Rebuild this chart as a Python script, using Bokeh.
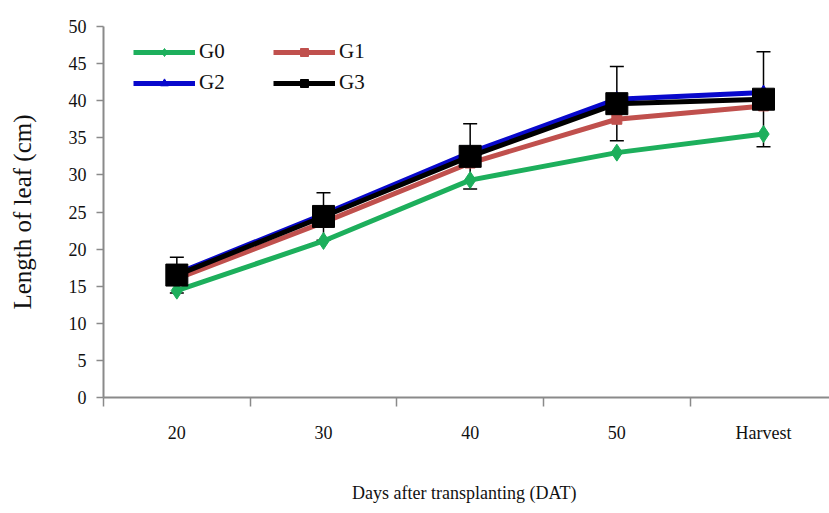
from bokeh.plotting import figure
from bokeh.models import (ColumnDataSource, Range1d, FixedTicker, Legend, LegendItem,
                          Whisker, TeeHead)
from bokeh.embed import file_html
from bokeh.resources import INLINE

categories = ["20", "30", "40", "50", "Harvest"]
g0 = [14.4, 21.1, 29.3, 33.0, 35.5]
g1 = [16.0, 23.6, 31.6, 37.5, 39.3]
g2 = [16.7, 24.7, 33.0, 40.2, 41.1]
g3 = [16.5, 24.4, 32.5, 39.6, 40.2]
g3_err = [2.4, 3.2, 4.4, 5.0, 6.4]
y_ticks = list(range(0, 51, 5))

FONT = "Liberation Serif"
AXIS_COLOR = "#8a8a8a"

n = len(categories)
centers = [i + 0.5 for i in range(n)]      # category slots
bounds = list(range(n + 1))                # category boundaries (Excel-style ticks)

p = figure(width=829, height=513, x_range=Range1d(0, n - 0.05), y_range=Range1d(0, 50),
           output_backend="svg", toolbar_location=None,
           min_border_left=103, min_border_right=0, min_border_top=26, min_border_bottom=116)
p.outline_line_color = None
p.xgrid.grid_line_color = None
p.ygrid.grid_line_color = None

xax = p.xaxis[0]
xax.ticker = FixedTicker(ticks=centers, minor_ticks=bounds)
xax.major_label_overrides = {c: lab for c, lab in zip(centers, categories)}
xax.axis_line_color = AXIS_COLOR
xax.axis_line_width = 2
xax.major_tick_line_color = None
xax.major_tick_out = 0
xax.major_tick_in = 0
xax.minor_tick_line_color = AXIS_COLOR
xax.minor_tick_line_width = 1.5
xax.minor_tick_out = 9
xax.minor_tick_in = 0
xax.major_label_standoff = 16
xax.major_label_text_font = FONT
xax.major_label_text_font_size = "18px"
xax.major_label_text_color = "#111111"
xax.axis_label = "Days after  transplanting (DAT)"
xax.axis_label_text_font = FONT
xax.axis_label_text_font_size = "18px"
xax.axis_label_text_font_style = "normal"
xax.axis_label_text_color = "#111111"
xax.axis_label_standoff = 37

yax = p.yaxis[0]
yax.ticker = FixedTicker(ticks=y_ticks)
yax.axis_line_color = AXIS_COLOR
yax.axis_line_width = 2
yax.major_tick_line_color = AXIS_COLOR
yax.major_tick_line_width = 1.5
yax.major_tick_out = 7
yax.major_tick_in = 0
yax.minor_tick_line_color = None
yax.major_label_text_font = FONT
yax.major_label_text_font_size = "18px"
yax.major_label_text_color = "#111111"
yax.major_label_standoff = 10
yax.axis_label = "Length of leaf (cm)"
yax.axis_label_text_font = FONT
yax.axis_label_text_font_size = "25px"
yax.axis_label_text_font_style = "normal"
yax.axis_label_text_color = "#111111"
yax.axis_label_standoff = 30

src = ColumnDataSource(dict(x=centers, g0=g0, g1=g1, g2=g2, g3=g3,
                            upper=[v + e for v, e in zip(g3, g3_err)],
                            lower=[v - e for v, e in zip(g3, g3_err)]))

series = [
    ("G0", "g0", "#1DAF5C", "diamond", 17),
    ("G1", "g1", "#C0504D", "square", 10),
    ("G2", "g2", "#0808CC", "triangle", 13),
    ("G3", "g3", "#000000", "square", 22),
]
items = {}
for name, col, color, marker, size in series:
    ln = p.line("x", col, source=src, line_color=color, line_width=5)
    sc = p.scatter("x", col, source=src, marker=marker, size=size,
                   fill_color=color, line_color=color)
    items[name] = LegendItem(label=name, renderers=[ln, sc])

wh = Whisker(source=src, base="x", upper="upper", lower="lower", line_color="black",
             line_width=1.5,
             upper_head=TeeHead(size=14, line_color="black", line_width=1.5),
             lower_head=TeeHead(size=14, line_color="black", line_width=1.5))
p.add_layout(wh)

# legend is filled column by column: G0/G2 in the first column, G1/G3 in the second
legend = Legend(items=[items["G0"], items["G2"], items["G1"], items["G3"]], ncols=2,
                location=(30, 302), margin=0, padding=0,
                glyph_width=62, glyph_height=20, label_height=20, label_width=68,
                label_standoff=4, spacing=6, border_line_color=None,
                background_fill_alpha=0, label_text_font=FONT,
                label_text_font_size="21px", label_text_color="#111111")
p.add_layout(legend, "center")

open("out.html", "w").write(file_html(p, INLINE))
